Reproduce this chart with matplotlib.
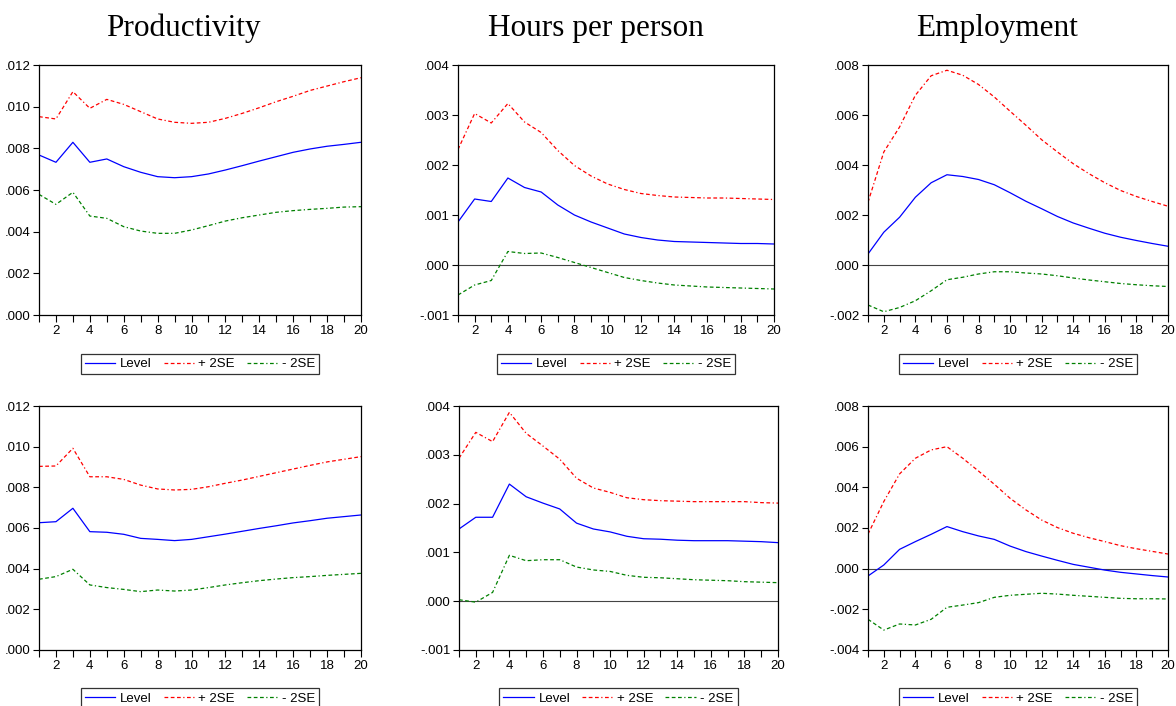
import numpy as np
import matplotlib.pyplot as plt
from matplotlib.ticker import FuncFormatter, MultipleLocator

# horyzont odpowiedzi
okresy = list(range(1, 21))

# gorny wiersz
prod1_level = [0.00768, 0.00733, 0.00829, 0.00733, 0.00749, 0.00712, 0.00685, 0.00664, 0.00659, 0.00664,
               0.00677, 0.00696, 0.00717, 0.00739, 0.00760, 0.00781, 0.00797, 0.00810, 0.00819, 0.00829]
prod1_up = [0.00952, 0.00941, 0.01072, 0.00992, 0.01035, 0.01011, 0.00976, 0.00941, 0.00925, 0.00920,
            0.00925, 0.00944, 0.00968, 0.00995, 0.01024, 0.01050, 0.01078, 0.01099, 0.01120, 0.01139]
prod1_low = [0.00579, 0.00531, 0.00589, 0.00475, 0.00464, 0.00424, 0.00403, 0.00392, 0.00392, 0.00408,
             0.00429, 0.00451, 0.00467, 0.00480, 0.00493, 0.00501, 0.00507, 0.00512, 0.00518, 0.00520]

hours1_level = [0.00086, 0.00132, 0.00127, 0.00174, 0.00155, 0.00146, 0.00120, 0.00100, 0.00086, 0.00074,
                0.00062, 0.00055, 0.00050, 0.00047, 0.00046, 0.00045, 0.00044, 0.00043, 0.00043, 0.00042]
hours1_up = [0.00231, 0.00303, 0.00284, 0.00323, 0.00286, 0.00265, 0.00229, 0.00199, 0.00178, 0.00162,
             0.00151, 0.00143, 0.00139, 0.00136, 0.00135, 0.00134, 0.00134, 0.00133, 0.00132, 0.00131]
hours1_low = [-0.00060, -0.00040, -0.00031, 0.00027, 0.00023, 0.00024, 0.00015, 0.00005, -0.00005, -0.00015,
              -0.00025, -0.00031, -0.00036, -0.00040, -0.00042, -0.00044, -0.00045, -0.00046, -0.00047, -0.00048]

emp1_level = [0.00044, 0.00131, 0.00191, 0.00271, 0.00329, 0.00361, 0.00354, 0.00342, 0.00321, 0.00289,
              0.00255, 0.00225, 0.00194, 0.00168, 0.00147, 0.00127, 0.00111, 0.00098, 0.00086, 0.00075]
emp1_up = [0.00251, 0.00452, 0.00552, 0.00679, 0.00757, 0.00779, 0.00759, 0.00722, 0.00672, 0.00615,
           0.00559, 0.00501, 0.00452, 0.00405, 0.00365, 0.00329, 0.00298, 0.00274, 0.00254, 0.00235]
emp1_low = [-0.00160, -0.00187, -0.00170, -0.00143, -0.00103, -0.00059, -0.00049, -0.00036, -0.00027, -0.00027,
            -0.00032, -0.00036, -0.00043, -0.00052, -0.00060, -0.00067, -0.00074, -0.00079, -0.00083, -0.00086]

# dolny wiersz
prod2_level = [0.00626, 0.00631, 0.00697, 0.00582, 0.00579, 0.00569, 0.00549, 0.00544, 0.00538, 0.00544,
               0.00557, 0.00570, 0.00584, 0.00598, 0.00611, 0.00625, 0.00636, 0.00648, 0.00656, 0.00664]
prod2_up = [0.00903, 0.00905, 0.00992, 0.00852, 0.00852, 0.00839, 0.00811, 0.00792, 0.00787, 0.00790,
            0.00803, 0.00820, 0.00836, 0.00854, 0.00872, 0.00890, 0.00908, 0.00925, 0.00938, 0.00951]
prod2_low = [0.00348, 0.00361, 0.00397, 0.00320, 0.00307, 0.00298, 0.00287, 0.00295, 0.00290, 0.00295,
             0.00307, 0.00320, 0.00331, 0.00341, 0.00349, 0.00356, 0.00361, 0.00367, 0.00372, 0.00377]

hours2_level = [0.00148, 0.00172, 0.00172, 0.00240, 0.00214, 0.00201, 0.00189, 0.00160, 0.00148, 0.00142,
                0.00133, 0.00128, 0.00127, 0.00125, 0.00124, 0.00124, 0.00124, 0.00123, 0.00122, 0.00120]
hours2_up = [0.00293, 0.00346, 0.00327, 0.00387, 0.00344, 0.00318, 0.00291, 0.00252, 0.00232, 0.00223,
             0.00212, 0.00208, 0.00206, 0.00205, 0.00204, 0.00204, 0.00204, 0.00204, 0.00202, 0.00201]
hours2_low = [0.00003, -0.00002, 0.00018, 0.00094, 0.00083, 0.00085, 0.00085, 0.00070, 0.00064, 0.00061,
              0.00053, 0.00049, 0.00048, 0.00046, 0.00044, 0.00043, 0.00042, 0.00040, 0.00039, 0.00038]

emp2_level = [-0.00036, 0.00018, 0.00095, 0.00133, 0.00169, 0.00207, 0.00182, 0.00161, 0.00144, 0.00111,
              0.00084, 0.00062, 0.00041, 0.00021, 0.00007, -0.00007, -0.00018, -0.00026, -0.00034, -0.00041]
emp2_up = [0.00170, 0.00330, 0.00466, 0.00543, 0.00584, 0.00600, 0.00543, 0.00480, 0.00415, 0.00346,
           0.00289, 0.00239, 0.00202, 0.00174, 0.00152, 0.00133, 0.00113, 0.00098, 0.00085, 0.00072]
emp2_low = [-0.00249, -0.00302, -0.00272, -0.00277, -0.00249, -0.00190, -0.00179, -0.00167, -0.00141, -0.00131,
            -0.00126, -0.00121, -0.00125, -0.00131, -0.00136, -0.00141, -0.00146, -0.00148, -0.00148, -0.00149]

tytuly = ['Productivity', 'Hours per person', 'Employment']
legenda = ['Level', '+ 2SE', '- 2SE']

W, H = 1176, 706

# pozycje osi w pikselach: lewo, prawo, gora, dol
panele = [
    (prod1_level, prod1_up, prod1_low, (39, 361, 65, 315), (0.0, 0.012), 0.002),
    (hours1_level, hours1_up, hours1_low, (458, 774, 65, 315), (-0.001, 0.004), 0.001),
    (emp1_level, emp1_up, emp1_low, (868, 1168, 65, 315), (-0.002, 0.008), 0.002),
    (prod2_level, prod2_up, prod2_low, (39, 361, 406, 650), (0.0, 0.012), 0.002),
    (hours2_level, hours2_up, hours2_low, (459, 778, 406, 650), (-0.001, 0.004), 0.001),
    (emp2_level, emp2_up, emp2_low, (868, 1168, 406, 650), (-0.004, 0.008), 0.002),
]

def fmt(v, pos):
    s = '%.3f' % v
    if s.startswith('-0'):
        return '-' + s[2:]
    if s.startswith('0'):
        return s[1:]
    return s

plt.rcParams['font.family'] = ['Liberation Sans', 'DejaVu Sans']
fig = plt.figure(figsize=(W / 100, H / 100), dpi=100)

kreska = (0, (3, 2, 3, 2, 3, 2, 1, 2))

for level, up, low, (l, r, t, b), ylim, krok in panele:
    ax = fig.add_axes([l / W, 1 - b / H, (r - l) / W, (b - t) / H])
    if ylim[0] < 0:
        ax.axhline(0, color='#444444', lw=0.8, zorder=1)
    l1, = ax.plot(okresy, level, color='#0000ff', lw=0.9)
    l2, = ax.plot(okresy, up, color='#ff0000', lw=0.9, linestyle=kreska)
    l3, = ax.plot(okresy, low, color='#008000', lw=0.9, linestyle=kreska)
    ax.set_xlim(1, 20)
    ax.set_ylim(*ylim)
    ax.xaxis.set_major_locator(MultipleLocator(2))
    ax.xaxis.set_minor_locator(MultipleLocator(1))
    ax.yaxis.set_major_locator(MultipleLocator(krok))
    ax.yaxis.set_major_formatter(FuncFormatter(fmt))
    ax.tick_params(axis='both', which='both', direction='out', labelsize=9.5, width=0.8, pad=2)
    ax.tick_params(axis='x', which='major', length=5)
    ax.tick_params(axis='x', which='minor', length=5)
    ax.tick_params(axis='y', length=4)
    for s in ax.spines.values():
        s.set_linewidth(0.9)
    leg = ax.legend([l1, l2, l3], legenda, loc='upper center', bbox_to_anchor=(0.5, -0.13),
                    ncol=3, fontsize=9.5, frameon=True, fancybox=False, edgecolor='black',
                    handlelength=2.3, handletextpad=0.35, columnspacing=0.9, borderpad=0.3)
    leg.get_frame().set_linewidth(0.9)

# tytuly kolumn
for x, tekst in zip([183, 596, 997], tytuly):
    fig.text(x / W, 1 - 36 / H, tekst, ha='center', va='baseline', fontsize=22.5,
             family='Liberation Serif')

plt.savefig('out.png', dpi=100)
